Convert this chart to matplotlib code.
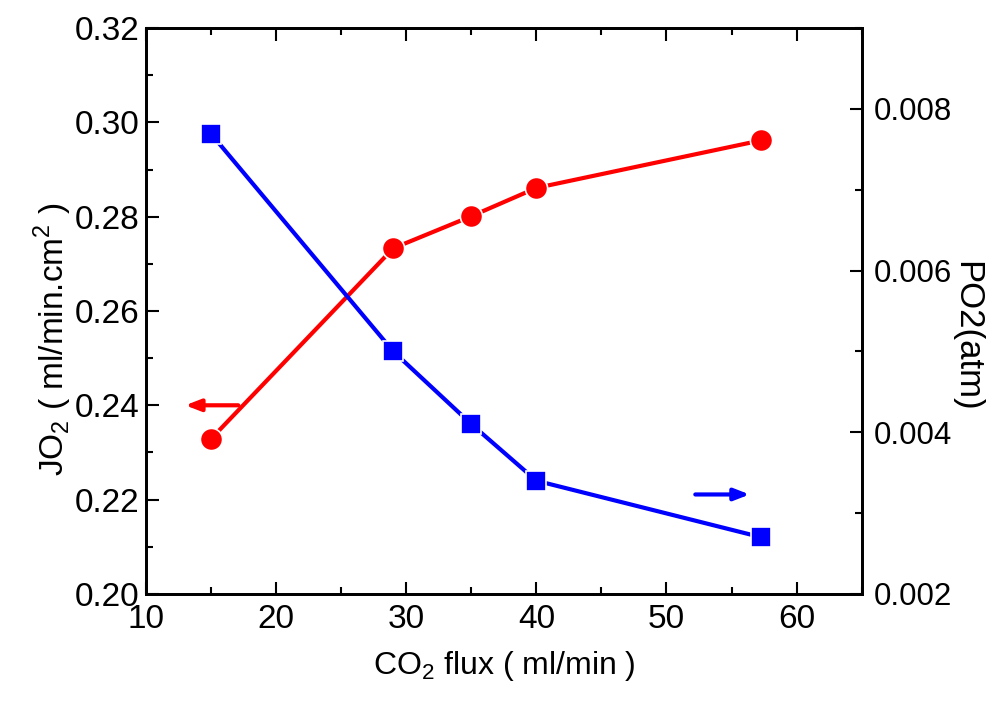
import matplotlib.pyplot as plt
from matplotlib.ticker import MultipleLocator

plt.rcParams['font.family'] = ['Liberation Sans', 'DejaVu Sans']
plt.rcParams['mathtext.fontset'] = 'custom'
plt.rcParams['mathtext.rm'] = 'Liberation Sans'

co2_flux = [15, 29, 35, 40, 57.3]
jo2 = [0.2329, 0.2733, 0.2801, 0.2861, 0.2962]
po2 = [0.00769, 0.00500, 0.00410, 0.00340, 0.00270]

fig = plt.figure(figsize=(9.87, 7.02), dpi=100)
ax = fig.add_axes([0.148, 0.154, 0.725, 0.806])
ax2 = ax.twinx()

ax.plot(co2_flux, jo2, '-', color='red', lw=3, marker='o', ms=16,
        mec='white', mew=1.2, clip_on=False)
ax2.plot(co2_flux, po2, '-', color='blue', lw=3, marker='s', ms=15,
         mec='white', mew=1.2, clip_on=False)

ax.set_xlim(10, 65)
ax.set_ylim(0.20, 0.32)
ax2.set_ylim(0.002, 0.009)

ax.xaxis.set_major_locator(MultipleLocator(10))
ax.xaxis.set_minor_locator(MultipleLocator(5))
ax.yaxis.set_minor_locator(MultipleLocator(0.01))
ax2.yaxis.set_minor_locator(MultipleLocator(0.001))

ax.set_yticks([0.20, 0.22, 0.24, 0.26, 0.28, 0.30, 0.32])
ax.set_yticklabels(['0.20', '0.22', '0.24', '0.26', '0.28', '0.30', '0.32'])
ax2.set_yticks([0.002, 0.004, 0.006, 0.008])
ax2.set_yticklabels(['0.002', '0.004', '0.006', '0.008'])

ax.tick_params(axis='both', which='major', direction='in', length=9, width=1.5,
               labelsize=24, top=True, pad=5)
ax.tick_params(axis='x', which='major', pad=7)
ax.tick_params(axis='both', which='minor', direction='in', length=5, width=1.5,
               top=True)
ax.tick_params(axis='y', which='both', right=False)
ax2.tick_params(axis='y', which='major', direction='in', length=9, width=1.5,
                labelsize=22.5, pad=9)
ax2.tick_params(axis='y', which='minor', direction='in', length=5, width=1.5)

for a in (ax, ax2):
    for s in a.spines.values():
        s.set_linewidth(2)

ax.set_xlabel('CO$_2$ flux ( ml/min )', fontsize=23, labelpad=10)
ax.set_ylabel('JO$_2$ ( ml/min.cm$^2$ )', fontsize=24)
ax.yaxis.set_label_coords(-0.13, 0.45)
ax.yaxis.label.set_verticalalignment('center')
ax2.set_ylabel('PO2(atm)', fontsize=25, rotation=270)
ax2.yaxis.set_label_coords(1.147, 0.455)
ax2.yaxis.label.set_verticalalignment('center')
ax2.yaxis.label.set_horizontalalignment('center')

ax.annotate('', xy=(12.8, 0.2400), xytext=(17.3, 0.2400),
            arrowprops=dict(arrowstyle='-|>,head_length=0.9,head_width=0.35',
                            color='red', lw=3))
ax2.annotate('', xy=(56.6, 0.00323), xytext=(52.0, 0.00323),
             arrowprops=dict(arrowstyle='-|>,head_length=0.9,head_width=0.35',
                             color='blue', lw=3))

fig.savefig('out.png', dpi=100)
